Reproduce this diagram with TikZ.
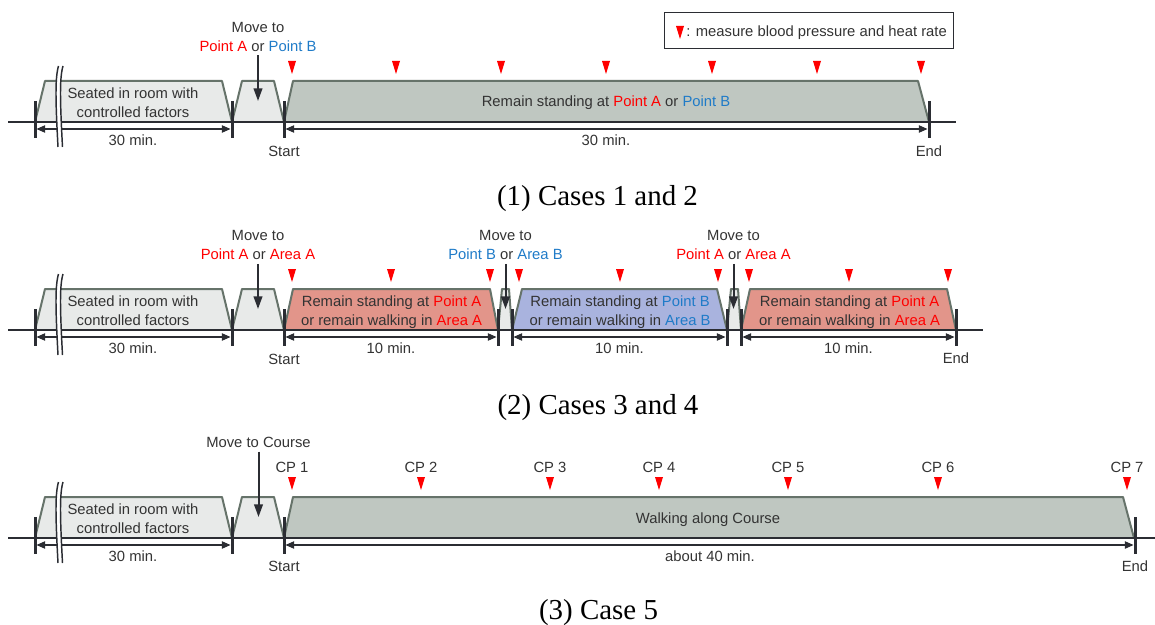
\documentclass[tikz,border=0pt]{standalone}
\usepackage{fontspec}
\setmainfont{Liberation Serif}
\setsansfont{Liberation Sans}
\usetikzlibrary{calc,arrows.meta}
\definecolor{edgec}{HTML}{66736A}
\definecolor{seatfill}{HTML}{E8EAE9}
\definecolor{mainfill}{HTML}{BFC7C1}
\definecolor{redfill}{HTML}{E2958A}
\definecolor{bluefill}{HTML}{A9B3DE}
\definecolor{axc}{HTML}{2B2D33}
\definecolor{txt}{HTML}{333333}
\definecolor{mred}{HTML}{FF0000}
\definecolor{mblue}{HTML}{1F7BC8}
\newcommand{\rA}[1]{\textcolor{mred}{#1}}
\newcommand{\bB}[1]{\textcolor{mblue}{#1}}
\begin{document}
\begin{tikzpicture}[x=0.75pt,y=-0.75pt,
 lbl/.style={font=\sffamily\fontsize{11.1pt}{14.25pt}\selectfont, text=txt, inner sep=1pt, align=center},
 caption/.style={font=\rmfamily\fontsize{21.7pt}{26pt}\selectfont, text=black, anchor=base, inner sep=0pt},
 trap/.style={draw=edgec, line width=1.5pt, line join=round},
 axisline/.style={draw=axc, line width=1.5pt},
 tickmark/.style={draw=axc, line width=2.25pt},
 dimline/.style={draw=axc, line width=0.85pt, {Triangle[length=6.5pt,width=5.5pt]}-{Triangle[length=6.5pt,width=5.5pt]}, shorten <=1.1pt, shorten >=1.1pt},
 movearr/.style={draw=axc, line width=1.5pt, -{Triangle[length=9.5pt,width=6.5pt]}, shorten <=2pt},
 breakline/.style={draw=axc, line width=1.1pt},
 meas/.pic={\fill[mred] (-4,0) -- (4,0) -- (0,13) -- cycle;}
]
\useasboundingbox (0,0) rectangle (1155,624);

% ================= Panel 1 =================
\begin{scope}
\filldraw[trap, fill=seatfill] (35,122) -- (45,81) -- (222,81) -- (232,122);
\filldraw[trap, fill=seatfill] (232,122) -- (242,81) -- (274,81) -- (284,122);
\filldraw[trap, fill=mainfill] (284,122) -- (293,81) -- (918,81) -- (929,122);
\coordinate (p1a) at (35,122); \coordinate (p1b) at (232,122);
\coordinate (p1c) at (284,122); \coordinate (p1d) at (929,122);
\coordinate (p1l) at (8,122); \coordinate (p1r) at (956,122);
\draw[axisline] (p1l) -- (p1r);
\foreach \tk in {p1a,p1b,p1c,p1d} \draw[tickmark] ($(\tk)+(0,-21)$) -- ($(\tk)+(0,16)$);
\draw[dimline] ($(p1a)+(0,7)$) -- ($(p1b)+(0,7)$);
\draw[dimline] ($(p1c)+(0,7)$) -- ($(p1d)+(0,7)$);
\fill[white] (58.5,66) .. controls (55,78) and (55.5,100) .. (58,147) -- (62.5,147) .. controls (60,100) and (59.5,78) .. (63,66) -- cycle;
\draw[breakline] (58.5,66) .. controls (55,78) and (55.5,100) .. (58,147);
\draw[breakline] (63,66) .. controls (59.5,78) and (60,100) .. (62.5,147);
\node[lbl] (p1seat) at (133,103) {Seated in room with\\controlled factors};
\node[lbl] (p1mv) at (258,36.5) {Move to\\\rA{Point A} or \bB{Point B}};
\coordinate (p1mve) at (258,101);
\draw[movearr] (p1mv) -- (p1mve);
\node[lbl] (p1main) at (606,102.5) {Remain standing at \rA{Point A} or \bB{Point B}};
\node[lbl] (p1da) at (133,140) {30 min.};
\node[lbl] (p1db) at (606,140) {30 min.};
\node[lbl] (p1st) at (284,151) {Start};
\node[lbl] (p1en) at (929,151) {End};
\foreach \x in {292,396,501,606,712,817,921} \pic at (\x,61) {meas};
\node[draw=axc, line width=0.6pt, minimum width=216.75pt, minimum height=27pt, inner sep=0pt] (leg) at (809,30) {};
\pic at (680,26) {meas};
\node[lbl, anchor=west, inner sep=0pt] (legt) at (686,33) {: measure blood pressure and heat rate};
\end{scope}
\node[caption] (cap1) at (597.5,205) {(1) Cases 1 and 2};

% ================= Panel 2 =================
\begin{scope}[shift={(0,208)}]
\filldraw[trap, fill=seatfill] (35,122) -- (45,81) -- (222,81) -- (232,122);
\filldraw[trap, fill=seatfill] (232,122) -- (242,81) -- (274,81) -- (284,122);
\filldraw[trap, fill=redfill] (284,122) -- (293,81) -- (490,81) -- (498,122);
\filldraw[trap, fill=seatfill] (498,122) -- (502,81) -- (509,81) -- (512,122);
\filldraw[trap, fill=bluefill] (512,122) -- (522,81) -- (717,81) -- (727,122);
\filldraw[trap, fill=seatfill] (727,122) -- (731,81) -- (738,81) -- (741,122);
\filldraw[trap, fill=redfill] (741,122) -- (750,81) -- (947,81) -- (956,122);
\coordinate (p2a) at (35,122); \coordinate (p2b) at (232,122);
\coordinate (p2c) at (284,122); \coordinate (p2d) at (498,122);
\coordinate (p2e) at (512,122); \coordinate (p2f) at (727,122);
\coordinate (p2g) at (741,122); \coordinate (p2h) at (956,122);
\coordinate (p2l) at (8,122); \coordinate (p2r) at (983,122);
\draw[axisline] (p2l) -- (p2r);
\foreach \tk in {p2a,p2b,p2c,p2d,p2e,p2f,p2g,p2h} \draw[tickmark] ($(\tk)+(0,-21)$) -- ($(\tk)+(0,16)$);
\draw[dimline] ($(p2a)+(0,7)$) -- ($(p2b)+(0,7)$);
\draw[dimline] ($(p2c)+(0,7)$) -- ($(p2d)+(0,7)$);
\draw[dimline] ($(p2e)+(0,7)$) -- ($(p2f)+(0,7)$);
\draw[dimline] ($(p2g)+(0,7)$) -- ($(p2h)+(0,7)$);
\fill[white] (58.5,66) .. controls (55,78) and (55.5,100) .. (58,147) -- (62.5,147) .. controls (60,100) and (59.5,78) .. (63,66) -- cycle;
\draw[breakline] (58.5,66) .. controls (55,78) and (55.5,100) .. (58,147);
\draw[breakline] (63,66) .. controls (59.5,78) and (60,100) .. (62.5,147);
\node[lbl] (p2seat) at (133,103) {Seated in room with\\controlled factors};
\node[lbl] (p2mv1) at (258,37) {Move to\\\rA{Point A} or \rA{Area A}};
\node[lbl] (p2mv2) at (505.5,37) {Move to\\\bB{Point B} or \bB{Area B}};
\node[lbl] (p2mv3) at (733.5,37) {Move to\\\rA{Point A} or \rA{Area A}};
\coordinate (p2m1) at (258,101); \coordinate (p2m2) at (505.5,101); \coordinate (p2m3) at (733.5,101);
\draw[movearr] (p2mv1) -- (p2m1);
\draw[movearr] (p2mv2) -- (p2m2);
\draw[movearr] (p2mv3) -- (p2m3);
\node[lbl] (p2r1) at (391.5,104) {Remain standing at \rA{Point A}\\or remain walking in \rA{Area A}};
\node[lbl] (p2b1) at (620,104) {Remain standing at \bB{Point B}\\or remain walking in \bB{Area B}};
\node[lbl] (p2r2) at (849.5,104) {Remain standing at \rA{Point A}\\or remain walking in \rA{Area A}};
\node[lbl] (p2da) at (133,140) {30 min.};
\node[lbl] (p2db) at (391,140) {10 min.};
\node[lbl] (p2dc) at (619.5,140) {10 min.};
\node[lbl] (p2dd) at (848.5,140) {10 min.};
\node[lbl] (p2st) at (284,151) {Start};
\node[lbl] (p2en) at (956,150) {End};
\foreach \x in {292,391,490,519,620,718,749,849,948} \pic at (\x,61) {meas};
\end{scope}
\node[caption] (cap2) at (598,414) {(2) Cases 3 and 4};

% ================= Panel 3 =================
\begin{scope}[shift={(0,416)}]
\filldraw[trap, fill=seatfill] (35,122) -- (45,81) -- (222,81) -- (232,122);
\filldraw[trap, fill=seatfill] (232,122) -- (242,81) -- (274,81) -- (284,122);
\filldraw[trap, fill=mainfill] (284,122) -- (293,81) -- (1123,81) -- (1134,122);
\coordinate (p3a) at (35,122); \coordinate (p3b) at (232,122);
\coordinate (p3c) at (284,122); \coordinate (p3d) at (1135,122);
\coordinate (p3l) at (8,122); \coordinate (p3r) at (1155,122);
\draw[axisline] (p3l) -- (p3r);
\foreach \tk in {p3a,p3b,p3c,p3d} \draw[tickmark] ($(\tk)+(0,-21)$) -- ($(\tk)+(0,16)$);
\draw[dimline] ($(p3a)+(0,7)$) -- ($(p3b)+(0,7)$);
\draw[dimline] ($(p3c)+(0,7)$) -- ($(p3d)+(0,7)$);
\fill[white] (58.5,66) .. controls (55,78) and (55.5,100) .. (58,147) -- (62.5,147) .. controls (60,100) and (59.5,78) .. (63,66) -- cycle;
\draw[breakline] (58.5,66) .. controls (55,78) and (55.5,100) .. (58,147);
\draw[breakline] (63,66) .. controls (59.5,78) and (60,100) .. (62.5,147);
\node[lbl] (p3seat) at (133,103) {Seated in room with\\controlled factors};
\node[lbl] (p3mv) at (258.5,26) {Move to Course};
\coordinate (p3me) at (258.5,101);
\draw[movearr] (p3mv) -- (p3me);
\node[lbl] (p3main) at (708,103.5) {Walking along Course};
\node[lbl] (p3da) at (133,140) {30 min.};
\node[lbl] (p3db) at (710,140) {about 40 min.};
\node[lbl] (p3st) at (284,150) {Start};
\node[lbl] (p3en) at (1135,150) {End};
\foreach \x/\n in {292/1,421/2,550/3,659/4,788/5,938/6,1127/7} {
  \pic at (\x,61) {meas};
  \node[lbl] (cp\n) at (\x,51) {CP \n};
}
\end{scope}
\node[caption] (cap3) at (598.5,619) {(3) Case 5};
\end{tikzpicture}
\end{document}
